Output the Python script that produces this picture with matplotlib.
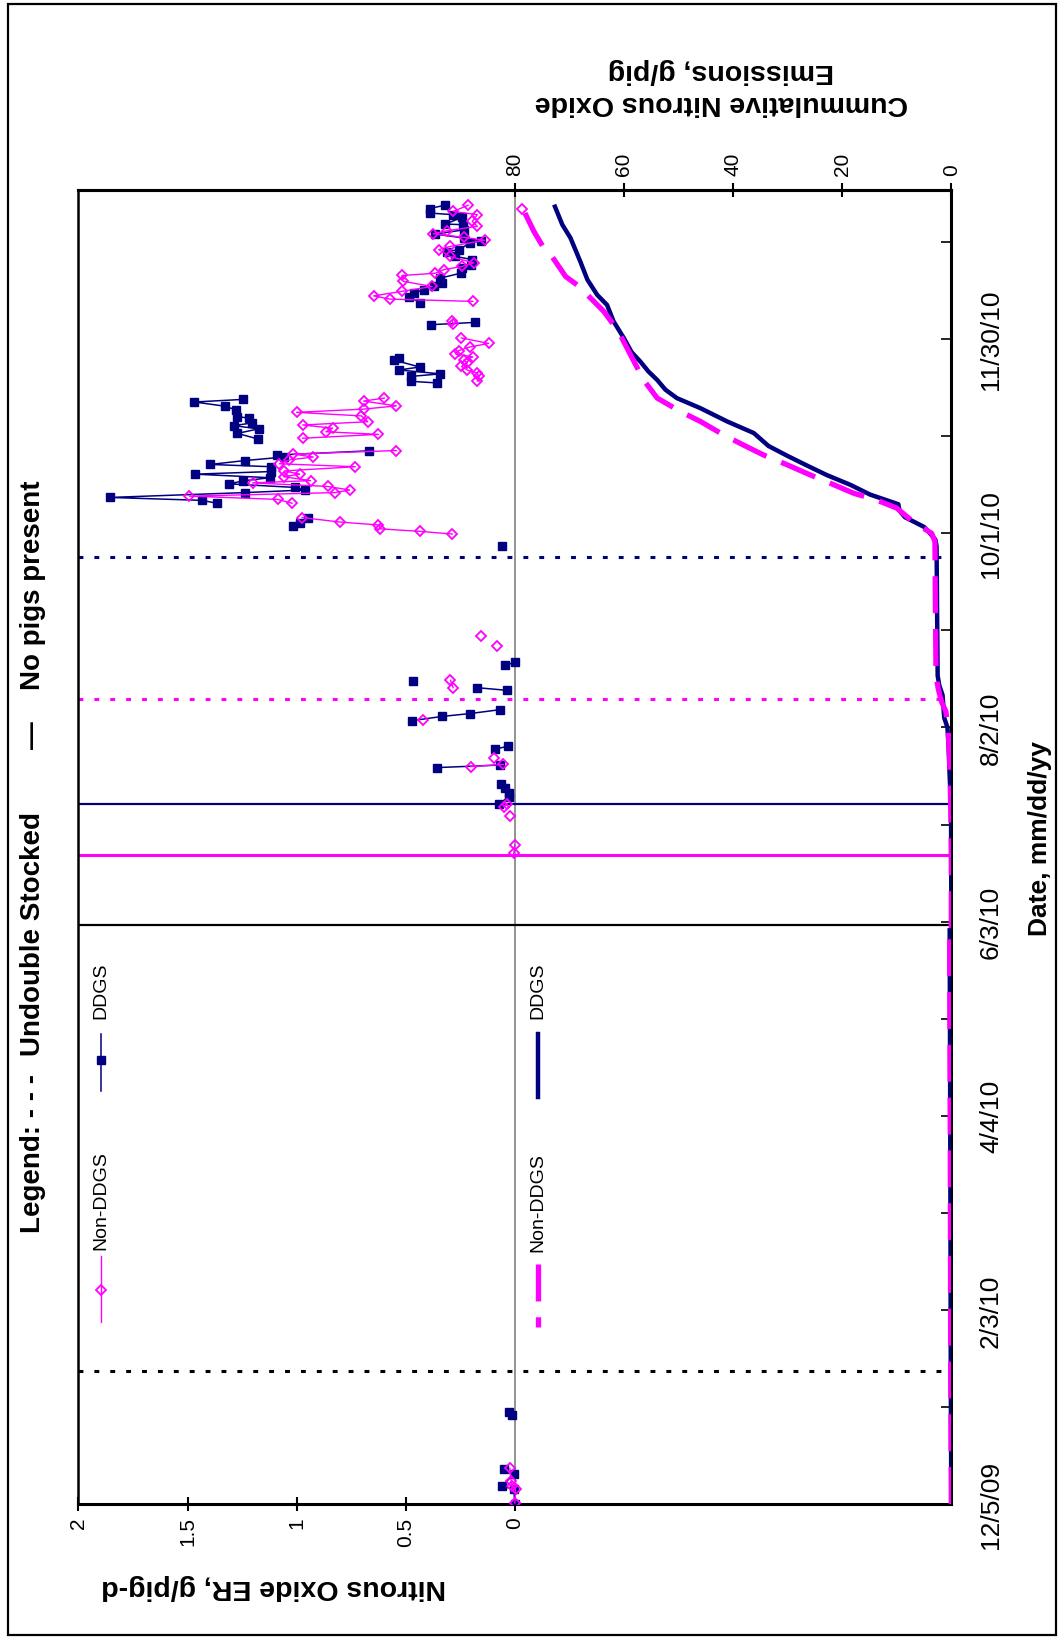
import numpy as np
import matplotlib.pyplot as plt
from matplotlib.lines import Line2D
from matplotlib.patches import Rectangle

plt.rcParams['font.family'] = ['Liberation Sans', 'DejaVu Sans']

nan = np.nan

# days since 12/5/09
date_ticks = [0, 60, 120, 180, 240, 300, 360]
date_labels = ['12/5/09', '2/3/10', '4/4/10', '6/3/10', '8/2/10', '10/1/10', '11/30/10']
date_minor = [30, 90, 150, 210, 270, 330, 390]

er_ticks = [2, 1.5, 1, 0.5, 0]
er_labels = ['2', '1.5', '1', '0.5', '0']
cum_ticks = [0, 20, 40, 60, 80]

# N2O emission rate, g/pig-d  (nan = gap in the record)
ddgs_day = [0, 4.6, 5.5, 9.3, 10.8, nan, 27.5, 28.4, nan,
            216.3, 218.6, 219.6, 221.2, 222.5, nan, 227.6, 228.4, nan, 233.3, 234.2, nan,
            242.1, 243.4, 244.3, 245.5, nan, 251.5, 252.3, nan, 254.3, nan, 259.3, 260.1, nan,
            296.1, nan, 302.4, 303.3, 304.7, nan,
            309.3, 310.2, 311.1, 312.6, 313.4, 314.2, 315.3, 316.2, 317.2, 318.3, 319.1, 320.6,
            321.3, 322.5, 323.6, 324.2, 325.5, nan,
            329.2, 330.9, 332.3, 333.3, 334.1, 335.6, 336.1, 338.1, 339.3, 340.6, 341.4, nan,
            346.5, 347.0, 348.5, 349.3, 350.5, 351.4, 353.6, 354.2, nan,
            364.5, 365.2, nan,
            371.2, 373.2, 374.3, 375.3, 376.3, 377.4, 378.9, 380.4, 382.0, 383.0, 384.6, 385.6,
            387.1, 387.7, 389.7, 390.4, 391.3, 392.5, 393.8, 395.4, 395.6, 397.7, 398.5, 399.0,
            400.4, 401.4]
ddgs_er = [0.0, 0.005, 0.058, 0.005, 0.05, nan, 0.012, 0.028, nan,
           0.073, 0.028, 0.028, 0.043, 0.062, nan, 0.359, 0.066, nan, 0.093, 0.030, nan,
           0.471, 0.336, 0.206, 0.069, nan, 0.038, 0.173, nan, 0.466, nan, 0.043, 0.0, nan,
           0.061, nan, 1.017, 0.983, 0.949, nan,
           1.365, 1.434, 1.855, 1.237, 0.960, 1.009, 1.309, 1.246, 1.124, 1.465, 1.118, 1.118,
           1.396, 1.237, 1.056, 1.090, 0.670, nan,
           1.179, 1.271, 1.174, 1.289, 1.205, 1.216, 1.273, 1.277, 1.327, 1.469, 1.246, nan,
           0.359, 0.478, 0.478, 0.341, 0.532, 0.436, 0.555, 0.532, nan,
           0.382, 0.183, nan,
           0.433, 0.486, 0.463, 0.417, 0.372, 0.333, 0.341, 0.249, 0.241, 0.203, 0.195, 0.272,
           0.310, 0.257, 0.206, 0.157, 0.234, 0.367, 0.234, 0.237, 0.318, 0.241, 0.283, 0.391,
           0.391, 0.321]

non_day = [0.3, 4.6, 5.7, 7.2, 11.0, nan,
           201.1, 203.6, nan, 212.6, nan, 215.5, 216.5, nan, 227.9, 228.6, nan, 230.6, nan,
           242.3, nan, 252.3, 254.6, nan, 265.3, nan, 268.4, nan,
           299.8, 300.6, 301.4, 302.6, 303.5, 304.9, nan,
           309.3, 310.5, 311.5, 312.6, 313.4, 314.5, 315.6, 316.3, 317.5, 318.3, 319.3, 320.6,
           321.5, 322.7, 323.6, 324.5, 325.6, nan,
           329.4, 330.6, 331.4, 332.5, 333.5, 334.5, 336.3, 337.4, 338.4, 339.4, 340.9, 341.8, nan,
           347.1, 348.5, 349.5, 350.5, 351.6, 352.6, 353.6, 354.5, 355.5, 356.5, 357.6, 358.7,
           360.4, nan,
           364.7, 365.7, nan,
           371.7, 372.4, 373.4, 374.8, 376.3, 377.9, 379.7, 380.4, 381.5, 382.5, 383.6, 385.6,
           387.7, 388.7, 390.6, 391.5, 392.6, 393.5, 394.9, 396.4, 398.5, 399.5, 401.4, nan,
           400.4]
non_er = [0.0, -0.003, 0.012, 0.017, 0.023, nan,
          0.005, 0.001, nan, 0.020, nan, 0.050, 0.035, nan, 0.203, 0.053, nan, 0.096, nan,
          0.420, nan, 0.283, 0.295, nan, 0.084, nan, 0.157, nan,
          0.287, 0.433, 0.616, 0.625, 0.803, 0.975, nan,
          1.021, 1.087, 1.491, 0.823, 0.757, 0.857, 1.202, 0.936, 1.059, 0.986, 1.056, 0.731,
          1.079, 1.033, 0.924, 1.016, 0.543, nan,
          0.972, 0.625, 0.866, 0.835, 0.972, 0.674, 0.703, 1.0, 0.693, 0.543, 0.693, 0.598, nan,
          0.172, 0.165, 0.172, 0.218, 0.245, 0.218, 0.234, 0.193, 0.272, 0.257, 0.206, 0.120,
          0.245, nan,
          0.283, 0.287, nan,
          0.193, 0.573, 0.647, 0.517, 0.379, 0.512, 0.517, 0.364, 0.326, 0.241, 0.188, 0.298,
          0.349, 0.295, 0.138, 0.234, 0.374, 0.313, 0.172, 0.195, 0.172, 0.283, 0.214, nan,
          -0.034]

# cumulative N2O, g/pig
cum_ddgs_day = [0, 41, 120, 178, nan, 185, 216, 225, 234, 240, 243, 250, 253, 256, 275, 296,
                298, 300, 302, 305, 307, 309, 312, 315, 318, 321, 324, 327, 331, 334.6, 338.7,
                341.8, 344.4, 347.4, 350, 353.1, 356, 360.3, 365.5, 370.6, 373.7, 378.4, 384,
                391.3, 395.4, 401.6]
cum_ddgs = [0.0, 0.1, 0.2, 0.3, nan, 0.0, 0.05, 0.3, 0.5, 0.7, 1.3, 1.6, 2.2, 2.5, 2.6, 2.7,
            2.9, 3.9, 5.0, 8.5, 9.5, 9.7, 14.9, 18.5, 22.8, 26.5, 30.1, 33.5, 36.2, 41.1, 46.0,
            50.3, 52.4, 53.9, 55.5, 57.0, 58.6, 60.0, 61.9, 63.1, 64.9, 66.7, 68.0,
            69.8, 71.3, 72.8]
cum_non_day = [0, 41, 120, 178, nan, 178, 201, 215, 230, 240, 245, 248, 252, 256, 275, 297.5,
               300, 303.6, 307.8, 310.3, 312.4, 315.5, 318.1, 321.2, 324.2, 327.3, 330.4,
               334.6, 337.7, 341.8, 347.4, 355.2, 361.4, 364.5, 368.6, 373.7, 376.8, 379.4,
               385.6, 388.2, 393.3, 399.5, 401.6]
cum_non = [0.0, 0.1, 0.2, 0.3, nan, 0.0, 0.0, 0.1, 0.3, 0.6, 1.0, 1.8, 2.4, 2.8, 2.9, 3.0,
           3.6, 7.0, 10.0, 13.7, 17.9, 22.2, 25.9, 30.1, 34.4, 38.1, 41.7,
           46.0, 49.7, 53.9, 56.4, 58.8, 60.7, 61.9, 63.7, 66.7, 68.6, 70.7,
           73.2, 74.7, 76.5, 78.3, 79.0]

# event dates (days since 12/5/09)
no_pigs = [178.8, 200.7, 216.3]       # black, Non-DDGS, DDGS
undouble = [41.0, 248.7, 292.6]       # black, Non-DDGS, DDGS

NAVY = '#000080'
MAG = '#FF00FF'

W, H = 1059, 1640
fig = plt.figure(figsize=(W / 100, H / 100), dpi=100)


def fx(p):
    return p / W


def fy(p):
    return 1 - p / H


ax = fig.add_axes([fx(78.4), fy(1505), fx(951.3) - fx(78.4), fy(191.4) - fy(1505)])
ax.set_xlim(2, -2)
ax.set_ylim(0, 406)

ax.axvline(0, color='#808080', lw=1.2, zorder=1)
for d, c in zip(no_pigs, ['black', MAG, NAVY]):
    ax.axhline(d, color=c, lw=2.2 if c == MAG else 1.6, zorder=1)
for d, c in zip(undouble, ['black', MAG, NAVY]):
    ax.axhline(d, color=c, lw=2.2, ls=(0, (1.6, 3.6)), zorder=1)

ax.plot(ddgs_er, ddgs_day, color=NAVY, lw=1.1, marker='s', ms=5.8, zorder=3)
ax.plot(non_er, non_day, color=MAG, lw=1.0, marker='D', ms=4.9, mfc='none', mew=1.3, zorder=4)

ax.set_xticks(er_ticks)
ax.set_xticklabels(er_labels)
ax.tick_params(axis='x', direction='inout', length=10, width=1.5, labelsize=15,
               labelrotation=90, pad=4)
ax.yaxis.tick_right()
ax.set_yticks(date_ticks)
ax.set_yticklabels(date_labels, rotation=90, va='center')
ax.set_yticks(date_minor, minor=True)
ax.tick_params(axis='y', which='both', direction='in', length=7, width=1.2, labelsize=19, pad=20)
for s in ['left', 'right', 'top', 'bottom']:
    ax.spines[s].set_linewidth(2.2)
ax.spines['left'].set_linewidth(1.8)

ax2 = ax.twiny()
ax2.set_xlim(160, 0)
ax2.plot(cum_ddgs, cum_ddgs_day, color=NAVY, lw=3.2, solid_capstyle='butt')
ax2.plot(cum_non, cum_non_day, color=MAG, lw=3.8, ls=(0, (7, 3)))
ax2.set_xticks(cum_ticks)
ax2.set_xticklabels([str(v) for v in cum_ticks])
ax2.tick_params(axis='x', direction='inout', length=10, width=1.5, labelsize=15,
                labelrotation=90, pad=6)
for s in ['left', 'right', 'bottom']:
    ax2.spines[s].set_visible(False)
ax2.spines['top'].set_linewidth(2.2)

# axis titles (chart is laid on its side)
fig.text(fx(274), fy(1587), 'Nitrous Oxide ER, g/pig-d', rotation=180, ha='center',
         va='center', fontsize=20.5, fontweight='bold')
fig.text(fx(721), fy(87), 'Cummulative Nitrous Oxide\nEmissions, g/pig', rotation=180,
         ha='center', va='center', fontsize=20.5, fontweight='bold', linespacing=1.25)
fig.text(fx(1040), fy(839), 'Date, mm/dd/yy', rotation=90, ha='center', va='center',
         fontsize=19, fontweight='bold')

# header legend
for txt, y in [('Legend: - - -', 1233), ('Undouble Stocked', 1056), ('No pigs present', 690)]:
    fig.text(fx(33.5), fy(y), txt, rotation=90, rotation_mode='anchor', ha='left',
             va='center', fontsize=20, fontweight='bold')
fig.text(fx(33.5), fy(735), '\u2014', rotation=90, rotation_mode='anchor', ha='center',
         va='center', fontsize=20, fontweight='bold')

# series legends
def key(x, y0, y1, color, **kw):
    fig.add_artist(Line2D([fx(x), fx(x)], [fy(y0), fy(y1)], color=color,
                          transform=fig.transFigure, **kw))


def label(x, y, txt):
    fig.text(fx(x), fy(y), txt, rotation=90, rotation_mode='anchor', ha='left',
             va='center', fontsize=14)


key(101, 1257, 1323, MAG, lw=1.0)
fig.add_artist(Line2D([fx(101)], [fy(1291)], color=MAG, marker='D', ms=4.9, mfc='none',
                      mew=1.3, transform=fig.transFigure))
label(101, 1250, 'Non-DDGS')
key(101, 1035, 1092, NAVY, lw=1.1)
fig.add_artist(Line2D([fx(101)], [fy(1061)], color=NAVY, marker='s', ms=5.8,
                      transform=fig.transFigure))
label(101, 1019, 'DDGS')

key(538, 1265, 1328, MAG, lw=3.8, ls=(0, (7, 3)))
label(538, 1252, 'Non-DDGS')
key(538, 1035, 1098, NAVY, lw=3.2)
label(538, 1019, 'DDGS')

fig.add_artist(Rectangle((fx(8), fy(1636)), fx(1056) - fx(8), fy(5) - fy(1636), fill=False,
                         lw=1.6, edgecolor='black', transform=fig.transFigure))

fig.savefig('out.png', dpi=100)
